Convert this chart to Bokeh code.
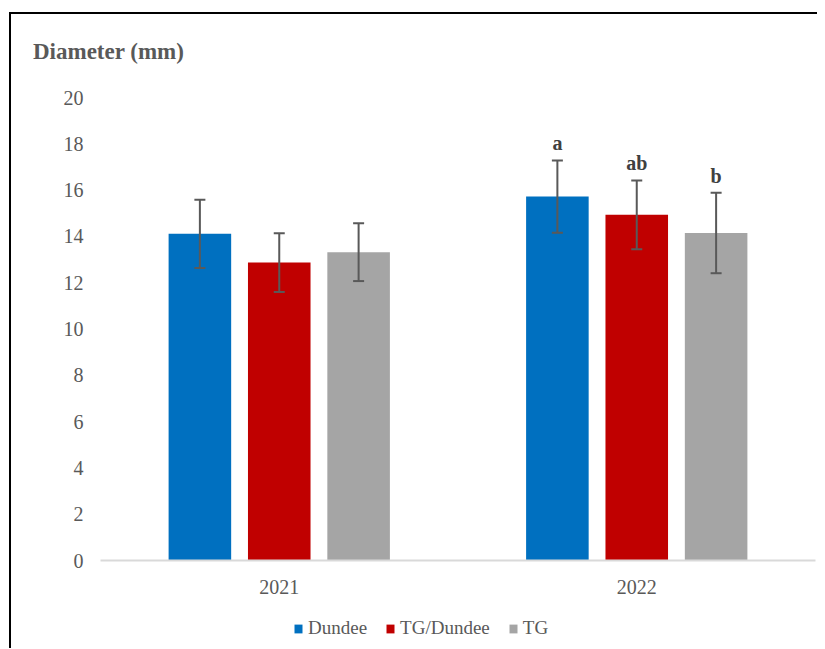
from bokeh.plotting import figure
from bokeh.layouts import column
from bokeh.models import (FactorRange, ColumnDataSource, Whisker, FixedTicker, Legend,
                          LegendItem, TeeHead, Range1d, Div)
from bokeh.transform import dodge
from bokeh.core.properties import value
from bokeh.embed import file_html
from bokeh.resources import INLINE

years = ["2021", "2022"]
series = ["Dundee", "TG/Dundee", "TG"]
dundee = [14.11, 15.72]
dundee_err = [1.47, 1.56]
tg_dundee = [12.87, 14.93]
tg_dundee_err = [1.27, 1.49]
tg = [13.32, 14.15]
tg_err = [1.25, 1.74]
letters_dundee = ["", "a"]
letters_tg_dundee = ["", "ab"]
letters_tg = ["", "b"]
y_ticks = [0, 2, 4, 6, 8, 10, 12, 14, 16, 18, 20]
y_title = "Diameter (mm)"

colors = ["#0070C0", "#C00000", "#A5A5A5"]
offsets = [-0.222, 0.0, 0.222]
FONT = "Liberation Serif"
W = 806

# --- title strip ---
title_div = Div(text=('<div style="padding:25px 0 0 22px;font-family:\'Liberation Serif\';'
                      'font-size:23px;font-weight:bold;color:#595959;line-height:26px;'
                      'white-space:nowrap">' + y_title + '</div>'),
                width=W, height=73, margin=0)

# --- main chart ---
p = figure(x_range=FactorRange(factors=years), y_range=Range1d(0, 20),
           frame_width=715, frame_height=463, output_backend="svg", toolbar_location=None,
           min_border_left=89, min_border_right=2, min_border_top=10, min_border_bottom=44)
p.outline_line_color = None
p.xgrid.grid_line_color = None
p.ygrid.grid_line_color = None

# --- legend strip ---
pl = figure(x_range=FactorRange(factors=years), y_range=Range1d(0, 1),
            width=W, height=44, output_backend="svg", toolbar_location=None,
            x_axis_location=None, y_axis_location=None, min_border=0)
pl.outline_line_color = None
pl.grid.grid_line_color = None

vals = [dundee, tg_dundee, tg]
errs = [dundee_err, tg_dundee_err, tg_err]
lets = [letters_dundee, letters_tg_dundee, letters_tg]
items = []
for name, v, e, l, c, off in zip(series, vals, errs, lets, colors, offsets):
    src = ColumnDataSource(dict(year=years, val=v,
                                upper=[a + b for a, b in zip(v, e)],
                                lower=[a - b for a, b in zip(v, e)],
                                letter=l))
    p.vbar(x=dodge("year", off, range=p.x_range), top="val", width=0.175, source=src,
           fill_color=c, line_color=None)
    w = Whisker(base=dodge("year", off, range=p.x_range), upper="upper", lower="lower",
                source=src, line_color="#595959", line_width=2, level="overlay",
                upper_head=TeeHead(size=11, line_color="#595959", line_width=2),
                lower_head=TeeHead(size=11, line_color="#595959", line_width=2))
    p.add_layout(w)
    p.text(x=dodge("year", off, range=p.x_range), y="upper", text="letter", source=src,
           text_align="center", text_baseline="alphabetic", y_offset=-17,
           text_font=value(FONT), text_font_style="bold", text_font_size="20px",
           text_color="#404040")
    # legend key renderer (hidden on the strip; only its legend swatch is shown)
    r = pl.vbar(x=dodge("year", off, range=pl.x_range), top="val", bottom="val",
                width=0.175, source=src, fill_color=c, line_color=None)
    r.visible = False
    items.append(LegendItem(label=name, renderers=[r]))

p.yaxis.ticker = FixedTicker(ticks=y_ticks)
p.yaxis.axis_line_color = None
p.yaxis.major_tick_line_color = None
p.yaxis.minor_tick_line_color = None
p.yaxis.major_label_standoff = 11
p.xaxis.axis_line_color = "#D9D9D9"
p.xaxis.axis_line_width = 2
p.xaxis.major_tick_line_color = None
p.xaxis.minor_tick_line_color = None
p.xaxis.major_label_standoff = 13
for ax in (p.xaxis, p.yaxis):
    ax.major_label_text_font = FONT
    ax.major_label_text_font_size = "20px"
    ax.major_label_text_color = "#595959"

legend = Legend(items=items, location=(193, 9), orientation="horizontal",
                click_policy="none",
                label_text_font=FONT, label_text_font_size="19px", label_text_color="#595959",
                glyph_width=10, glyph_height=11, label_standoff=5, spacing=18,
                padding=2, margin=0, border_line_color=None, background_fill_alpha=0)
pl.add_layout(legend, "center")

layout = column(title_div, p, pl, spacing=0,
                styles={"border-left": "2px solid #000", "border-top": "2px solid #000",
                        "margin-left": "9px", "margin-top": "12px"})

open("out.html", "w").write(file_html(layout, INLINE))
